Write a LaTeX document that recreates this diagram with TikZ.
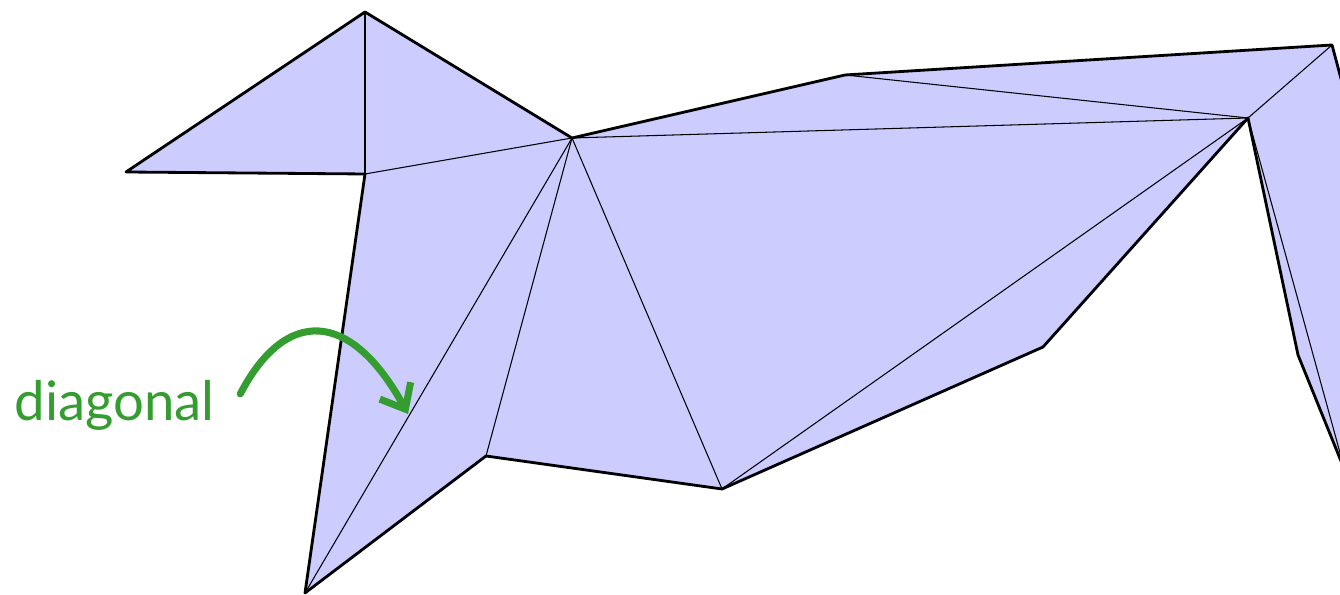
\documentclass[tikz,border=0pt]{standalone}
\usepackage{fontspec}
\usepackage{tikz}
\usetikzlibrary{arrows.meta, positioning, calc}
\newfontfamily\notefont{Lato}
\definecolor{facefill}{RGB}{204, 204, 255}
\definecolor{notegreen}{RGB}{52, 157, 48}

\tikzset{
  edge/.style={line width=0.8pt, line join=round},
  diag/.style={line width=0.3pt},
  note/.style={font=\notefont\fontsize{15.5}{18}\selectfont, text=notegreen,
               inner sep=0pt, anchor=base west},
  pointer/.style={draw=notegreen, line width=2pt, line cap=round,
                  -{Straight Barb[length=6pt, width=10pt, line width=2pt]}}
}

\begin{document}
\begin{tikzpicture}[x=0.01cm, y=-0.01cm]

\useasboundingbox (0,0) rectangle (1340,595);
\clip (0,0) rectangle (1340,595);

% Polygon vertices
\coordinate (A) at (126,172);
\coordinate (B) at (365,12);
\coordinate (C) at (572,138);
\coordinate (D) at (365,174);
\coordinate (E) at (305,593);
\coordinate (F) at (486,456);
\coordinate (G) at (722,489);
\coordinate (H) at (1043,347);
\coordinate (I) at (1248,118);
\coordinate (J) at (1298,355);
\coordinate (K) at (845,75);
\coordinate (L) at (1332,45);
\coordinate (M) at (1345,471);
\coordinate (N) at (1400,300);

% Face
\fill[facefill] (A) -- (B) -- (C) -- (K) -- (L) -- (N) -- (M) -- (J) -- (I)
  -- (H) -- (G) -- (F) -- (E) -- (D) -- cycle;

% Diagonals
\draw[diag] (B) -- (D);
\draw[diag] (D) -- (C);
\draw[diag] (C) -- (E);
\draw[diag] (C) -- (F);
\draw[diag] (C) -- (G);
\draw[diag] (C) -- (I);
\draw[diag] (G) -- (I);
\draw[diag] (K) -- (I);
\draw[diag] (L) -- (I);
\draw[diag] (I) -- (M);

% Boundary
\draw[edge] (D) -- (A) -- (B) -- (C) -- (K) -- (L) -- (N);
\draw[edge] (M) -- (J) -- (I) -- (H) -- (G) -- (F) -- (E) -- (D);

% Label
\node[note] (label) at (14,421) {diagonal};
\coordinate (tip) at (408,414);
\draw[pointer] ($(label.east)+(25,-12)$) .. controls (285,308) and (350,308) .. (tip);

\end{tikzpicture}
\end{document}
